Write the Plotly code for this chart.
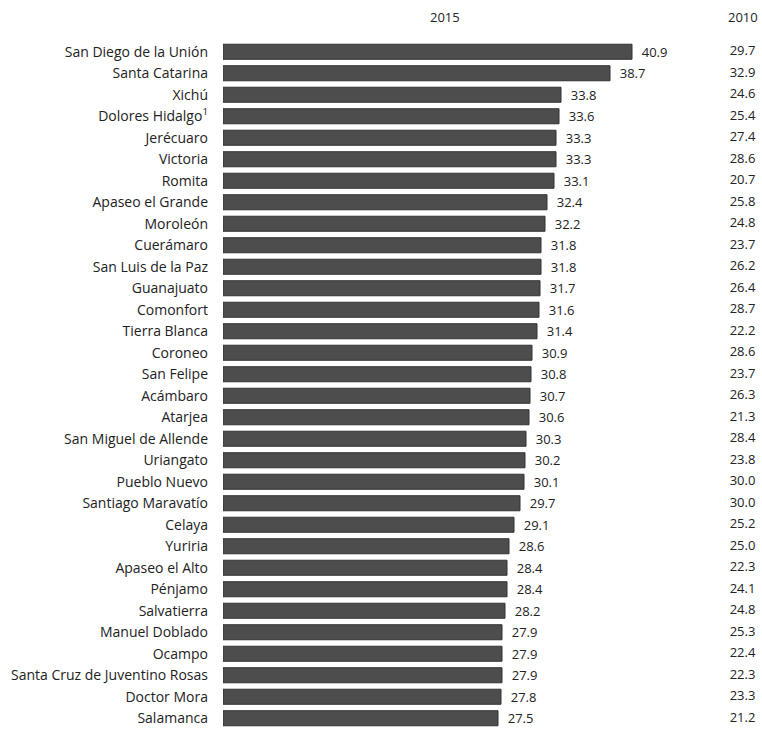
import plotly.graph_objects as go

municipios = [
    "San Diego de la Unión", "Santa Catarina", "Xichú", "Dolores Hidalgo<sup>1</sup>",
    "Jerécuaro", "Victoria", "Romita", "Apaseo el Grande", "Moroleón", "Cuerámaro",
    "San Luis de la Paz", "Guanajuato", "Comonfort", "Tierra Blanca", "Coroneo",
    "San Felipe", "Acámbaro", "Atarjea", "San Miguel de Allende", "Uriangato",
    "Pueblo Nuevo", "Santiago Maravatío", "Celaya", "Yuriria", "Apaseo el Alto",
    "Pénjamo", "Salvatierra", "Manuel Doblado", "Ocampo",
    "Santa Cruz de Juventino Rosas", "Doctor Mora", "Salamanca",
]
valores_2015 = [
    40.9, 38.7, 33.8, 33.6, 33.3, 33.3, 33.1, 32.4, 32.2, 31.8, 31.8, 31.7, 31.6,
    31.4, 30.9, 30.8, 30.7, 30.6, 30.3, 30.2, 30.1, 29.7, 29.1, 28.6, 28.4, 28.4,
    28.2, 27.9, 27.9, 27.9, 27.8, 27.5,
]
valores_2010 = [
    29.7, 32.9, 24.6, 25.4, 27.4, 28.6, 20.7, 25.8, 24.8, 23.7, 26.2, 26.4, 28.7,
    22.2, 28.6, 23.7, 26.3, 21.3, 28.4, 23.8, 30.0, 30.0, 25.2, 25.0, 22.3, 24.1,
    24.8, 25.3, 22.4, 22.3, 23.3, 21.2,
]
encabezados = ["2015", "2010"]

FONT = "Open Sans"
TXT = "#222222"
col_2010_x = 51.95
col_2015_x = 22.15
n = len(municipios)

fig = go.Figure()
fig.add_trace(go.Bar(
    x=valores_2015, y=municipios, orientation="h",
    marker=dict(color="#4d4d4d", line=dict(color="#333333", width=1)),
    width=0.7,
    text=[f"  {v:.1f}" for v in valores_2015],
    textposition="outside",
    constraintext="none",
    textfont=dict(family=FONT, size=13, color=TXT),
    cliponaxis=False,
    hoverinfo="skip",
))
fig.add_trace(go.Scatter(
    x=[col_2010_x] * len(valores_2010), y=municipios, mode="text",
    text=[f"{v:.1f}" for v in valores_2010],
    textposition="middle center",
    textfont=dict(family=FONT, size=13, color=TXT),
    cliponaxis=False,
    hoverinfo="skip",
))

fig.add_annotation(x=col_2015_x, y=1.0343, xref="x", yref="paper", text=encabezados[0],
                   yanchor="middle", showarrow=False,
                   font=dict(family=FONT, size=13, color=TXT))
fig.add_annotation(x=col_2010_x, y=1.0343, xref="x", yref="paper", text=encabezados[1],
                   yanchor="middle", showarrow=False,
                   font=dict(family=FONT, size=13, color=TXT))

fig.update_layout(
    width=762, height=730,
    margin=dict(l=223, r=0, t=41, b=1, autoexpand=False),
    paper_bgcolor="white", plot_bgcolor="white",
    showlegend=False, bargap=0.3, hovermode=False,
    xaxis=dict(range=[0, 53.9], visible=False, fixedrange=True),
    yaxis=dict(range=[n - 0.5, -0.5], showgrid=False, showline=False, zeroline=False,
               ticks="", ticklabelstandoff=14, automargin=False, fixedrange=True,
               tickfont=dict(family=FONT, size=14, color=TXT)),
)

fig.write_html(
    "out.html",
    config={"displayModeBar": False, "staticPlot": True},
    post_script="document.body.style.margin='0';document.body.style.overflow='hidden';",
)
